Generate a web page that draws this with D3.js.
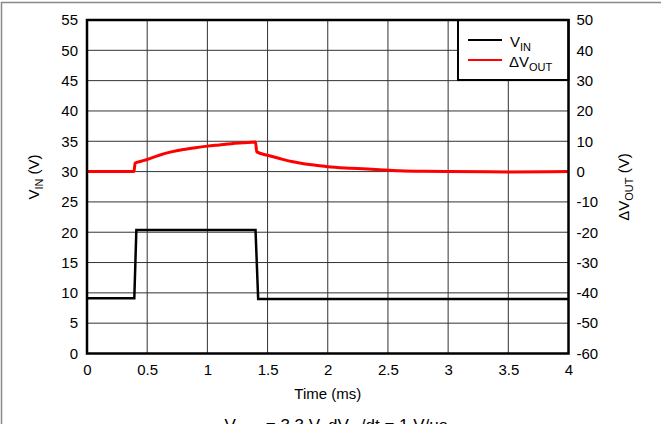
<!DOCTYPE html>
<html>
<head>
<meta charset="utf-8">
<script src="https://cdn.jsdelivr.net/npm/d3@7"></script>
<style>
  body { margin: 0; background: #fff; }
  svg { display: block; font-family: "Liberation Sans", Arial, sans-serif; }
</style>
</head>
<body>
<div id="div_chart"></div>
<script>
var xTicks = [0, 0.5, 1, 1.5, 2, 2.5, 3, 3.5, 4];
var leftTicks = [0, 5, 10, 15, 20, 25, 30, 35, 40, 45, 50, 55];
var rightTicks = [-60, -50, -40, -30, -20, -10, 0, 10, 20, 30, 40, 50];

var vinTime = [0, 0.393, 0.41, 1.40, 1.422, 4];
var vinVolts = [9.1, 9.1, 20.35, 20.35, 9.0, 9.0];

var dvoutTime = [0, 0.39, 0.40, 0.45, 0.5, 0.6, 0.7, 0.8, 0.9, 1.0, 1.1, 1.2, 1.3, 1.4,
                 1.41, 1.5, 1.6, 1.7, 1.8, 1.9, 2.0, 2.2, 2.4, 2.6, 2.8, 3.0, 3.5, 4.0];
var dvoutVals = [0, 0, 2.8, 3.4, 4.0, 5.4, 6.5, 7.3, 7.9, 8.4, 8.8, 9.2, 9.5, 9.8,
                 6.5, 5.4, 4.3, 3.3, 2.6, 2.1, 1.6, 1.1, 0.7, 0.3, 0.1, 0, -0.1, 0];

// Basic size information
var svgWidth = 661, svgHeight = 424;
var plot = {left: 87, right: 568.5, top: 20, bottom: 353.5};

var svg = d3.select("#div_chart")
    .append("svg")
        .attr("width", svgWidth)
        .attr("height", svgHeight);

// Outer frame (top and left edges only are visible)
svg.append("path")
    .attr("d", "M1.5," + svgHeight + " V2.5 H" + svgWidth)
    .attr("fill", "none")
    .attr("stroke", "#888")
    .attr("stroke-width", 1.5);

// Scales
var x = d3.scaleLinear().domain([0, 4]).range([plot.left, plot.right]);
var yL = d3.scaleLinear().domain([0, 55]).range([plot.bottom, plot.top]);
var yR = d3.scaleLinear().domain([-60, 50]).range([plot.bottom, plot.top]);

// Grid
var grid = svg.append("g").attr("stroke", "#333").attr("stroke-width", 1);
grid.selectAll("line.v")
    .data(xTicks.slice(1, -1))
    .join("line")
        .attr("x1", d => x(d)).attr("x2", d => x(d))
        .attr("y1", plot.top).attr("y2", plot.bottom);
grid.selectAll("line.h")
    .data(leftTicks.slice(1, -1))
    .join("line")
        .attr("x1", plot.left).attr("x2", plot.right)
        .attr("y1", d => yL(d)).attr("y2", d => yL(d));

// Axes (labels only, frame drawn separately)
var plain = d => String(d);   // keep the plain hyphen minus
var xAxis = svg.append("g")
    .attr("transform", "translate(0," + plot.bottom + ")")
    .call(d3.axisBottom(x).tickValues(xTicks).tickSize(0).tickPadding(11).tickFormat(plain));
var leftAxis = svg.append("g")
    .attr("transform", "translate(" + plot.left + ",0)")
    .call(d3.axisLeft(yL).tickValues(leftTicks).tickSize(0).tickPadding(9).tickFormat(plain));
var rightAxis = svg.append("g")
    .attr("transform", "translate(" + plot.right + ",0)")
    .call(d3.axisRight(yR).tickValues(rightTicks).tickSize(0).tickPadding(8).tickFormat(plain));

[xAxis, leftAxis, rightAxis].forEach(a => {
    a.select(".domain").remove();
    a.selectAll("text")
        .attr("fill", "#000")
        .style("font-size", "15px")
        .style("font-family", "'Liberation Sans', Arial, sans-serif");
});

// Traces
var clipId = "plotclip";
svg.append("clipPath").attr("id", clipId)
    .append("rect")
        .attr("x", plot.left).attr("y", plot.top)
        .attr("width", plot.right - plot.left).attr("height", plot.bottom - plot.top);

var vinLine = d3.line()
    .x((d, i) => x(vinTime[i]))
    .y(d => yL(d));
var dvLine = d3.line()
    .x((d, i) => x(dvoutTime[i]))
    .y(d => yR(d))
    .curve(d3.curveMonotoneX);

svg.append("path")
    .datum(dvoutVals)
    .attr("clip-path", "url(#" + clipId + ")")
    .attr("fill", "none")
    .attr("stroke", "#ff0000")
    .attr("stroke-width", 3)
    .attr("d", dvLine);

svg.append("path")
    .datum(vinVolts)
    .attr("clip-path", "url(#" + clipId + ")")
    .attr("fill", "none")
    .attr("stroke", "#000")
    .attr("stroke-width", 2.5)
    .attr("d", vinLine);

// Legend
var lg = svg.append("g");
lg.append("rect")
    .attr("x", 458).attr("y", plot.top)
    .attr("width", plot.right - 458).attr("height", 60)
    .attr("fill", "#fff").attr("stroke", "#000").attr("stroke-width", 2);
lg.append("line").attr("x1", 468).attr("x2", 502).attr("y1", 40).attr("y2", 40)
    .attr("stroke", "#000").attr("stroke-width", 2);
lg.append("line").attr("x1", 468).attr("x2", 502).attr("y1", 60).attr("y2", 60)
    .attr("stroke", "#ff0000").attr("stroke-width", 2);
var t1 = lg.append("text").attr("x", 510).attr("y", 47).style("font-size", "15px");
t1.append("tspan").text("V");
t1.append("tspan").attr("dy", 4).style("font-size", "11px").text("IN");
var t2 = lg.append("text").attr("x", 509).attr("y", 67).style("font-size", "15px");
t2.append("tspan").text("\u0394V");
t2.append("tspan").attr("dy", 4).style("font-size", "11px").text("OUT");

// Plot frame
svg.append("rect")
    .attr("x", plot.left).attr("y", plot.top)
    .attr("width", plot.right - plot.left).attr("height", plot.bottom - plot.top)
    .attr("fill", "none").attr("stroke", "#000").attr("stroke-width", 2.5);

// Axis titles
svg.append("text")
    .attr("x", (plot.left + plot.right) / 2).attr("y", 399)
    .attr("text-anchor", "middle").style("font-size", "15px")
    .text("Time (ms)");

var yl = svg.append("text")
    .attr("transform", "translate(39,177) rotate(-90)")
    .attr("text-anchor", "middle").style("font-size", "15px");
yl.append("tspan").text("V");
yl.append("tspan").attr("dy", 4).style("font-size", "11px").text("IN");
yl.append("tspan").attr("dy", -4).text(" (V)");

var yr = svg.append("text")
    .attr("transform", "translate(629,187) rotate(-90)")
    .attr("text-anchor", "middle").style("font-size", "15px");
yr.append("tspan").text("\u0394V");
yr.append("tspan").attr("dy", 4).style("font-size", "11px").text("OUT");
yr.append("tspan").attr("dy", -4).text(" (V)");

// Caption (cut off at the bottom edge, as in the capture)
var cap = svg.append("text")
    .attr("x", 336).attr("y", 431)
    .attr("text-anchor", "middle").style("font-size", "17px");
cap.append("tspan").text("V");
cap.append("tspan").attr("dy", 4).style("font-size", "12px").text("OUT");
cap.append("tspan").attr("dy", -4).text(" = 3.3 V, dV");
cap.append("tspan").attr("dy", 4).style("font-size", "12px").text("IN");
cap.append("tspan").attr("dy", -4).text("/dt = 1 V/\u00b5s");
</script>
</body>
</html>
